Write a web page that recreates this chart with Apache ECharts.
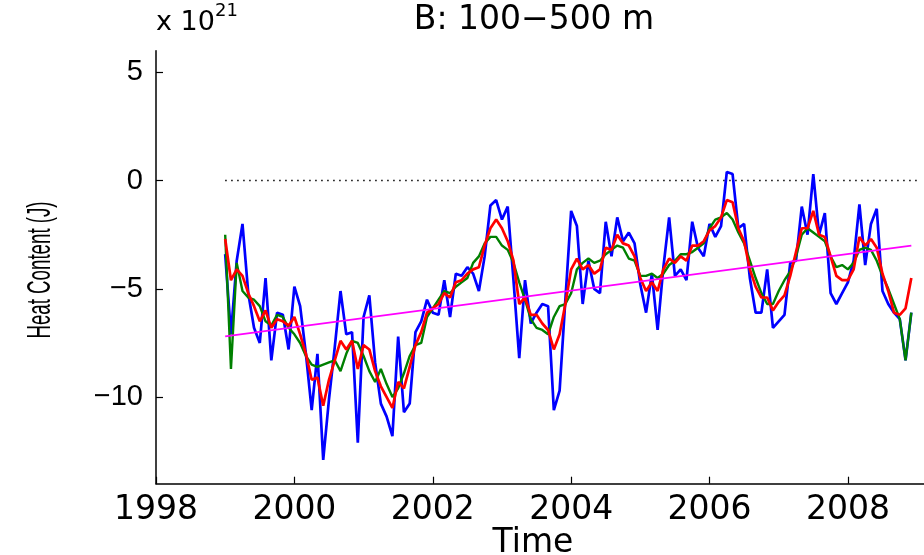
<!DOCTYPE html>
<html>
<head>
<meta charset="utf-8">
<script src="https://cdn.jsdelivr.net/npm/echarts@6/dist/echarts.min.js"></script>
<style>html,body{margin:0;padding:0;background:#fff}#c{width:924px;height:555px}</style>
</head>
<body>
<div id="c"></div>
<script>
// Monthly series, Jan 1999 .. Dec 2008 (units of 10^21 J)
const startYear = 1999;
const blueRaw = [
-3.4,-7.1,-3.7,-2.0,-5.2,-6.8,-7.5,-4.5,-8.3,-6.1,-6.2,-7.8,
-4.9,-5.8,-8.0,-10.6,-8.0,-12.9,-10.1,-7.7,-5.1,-7.1,-7.0,-12.1,
-6.3,-5.3,-8.4,-10.3,-10.9,-11.8,-7.2,-10.7,-10.3,-7.0,-6.5,-5.5,
-6.1,-6.2,-4.6,-6.3,-4.3,-4.4,-4.0,-4.3,-5.1,-3.5,-1.15,-0.9,
-1.8,-1.2,-4.6,-8.2,-4.6,-6.6,-6.1,-5.7,-5.8,-10.6,-9.7,-5.5,
-1.4,-2.1,-5.7,-3.7,-5.0,-5.2,-1.9,-3.5,-1.7,-2.8,-2.4,-2.9,
-4.8,-6.1,-4.3,-6.9,-4.0,-1.7,-4.4,-4.1,-4.6,-1.9,-3.1,-3.5,
-2.0,-2.6,-2.1,0.4,0.3,-2.2,-2.0,-4.5,-6.1,-6.1,-4.1,-6.8,
-6.5,-6.2,-3.8,-3.7,-1.2,-2.5,0.3,-2.5,-1.5,-5.2,-5.7,-5.2,
-4.7,-3.7,-1.1,-3.9,-2.0,-1.3,-5.1,-5.7,-6.1,-6.4,-8.3,-6.1
];
const greenSmooth = [
-2.5,-8.7,-3.8,-5.1,-5.4,-5.5,-5.8,-6.5,-6.7,-6.2,-6.3,-6.8,
-7.1,-7.5,-8.1,-8.5,-8.6,-8.5,-8.4,-8.3,-8.8,-8.0,-7.4,-7.5,
-8.1,-8.8,-9.3,-8.7,-9.4,-10.0,-9.6,-8.9,-8.1,-7.6,-7.5,-6.3,
-5.9,-5.5,-5.1,-5.2,-4.9,-4.7,-4.5,-3.8,-3.5,-2.9,-2.6,-2.6,
-3.0,-3.2,-3.8,-4.7,-5.5,-6.4,-6.8,-6.9,-7.1,-6.3,-5.8,-5.7,
-5.2,-4.1,-3.8,-3.6,-3.8,-3.7,-3.4,-3.2,-3.0,-3.1,-3.6,-3.7,
-4.4,-4.4,-4.3,-4.5,-4.3,-3.9,-3.7,-3.4,-3.4,-3.3,-3.1,-2.9,
-2.2,-1.8,-1.7,-1.5,-1.8,-2.4,-2.9,-3.7,-4.5,-5.2,-5.7,-5.7,
-5.1,-4.6,-4.2,-3.5,-2.5,-2.2,-2.4,-2.6,-2.8,-3.5,-4.0,-3.9,
-4.1,-3.8,-3.2,-3.1,-3.2,-3.7,-4.4,-5.0,-5.7,-6.4,-8.3,-6.1
];
const redSmooth = [
-2.7,-4.6,-4.1,-4.4,-5.2,-5.8,-6.5,-6.0,-6.8,-6.4,-6.5,-6.7,
-6.3,-7.1,-8.0,-9.2,-9.1,-10.4,-9.2,-8.3,-7.4,-7.8,-7.4,-8.7,
-7.6,-7.8,-8.8,-9.5,-10.0,-10.5,-9.3,-9.6,-8.6,-7.6,-7.0,-6.1,
-5.9,-5.7,-5.2,-5.4,-4.7,-4.6,-4.3,-4.1,-4.0,-3.0,-2.2,-1.8,
-2.2,-2.8,-3.7,-5.7,-5.4,-6.2,-6.2,-6.6,-6.9,-7.8,-7.1,-5.7,
-4.1,-3.6,-4.1,-3.9,-4.3,-4.1,-3.1,-3.2,-2.5,-2.9,-3.0,-3.5,
-4.5,-5.1,-4.7,-5.1,-4.1,-3.6,-3.8,-3.5,-3.7,-3.0,-3.0,-2.8,
-2.3,-2.1,-1.7,-0.9,-1.0,-2.2,-2.8,-4.1,-4.9,-5.4,-5.4,-6.0,
-5.6,-5.3,-4.4,-3.3,-2.2,-2.2,-1.4,-2.5,-2.6,-3.5,-4.4,-4.6,
-4.6,-4.1,-2.6,-3.0,-2.7,-3.1,-4.3,-5.1,-6.1,-6.2,-5.9,-4.5
];
const trendTimes = [1999.0, 2008.917];
const trendValues = [-7.2, -3.0];
const zeroTimes = [1999, 2009];
const zeroValues = [0, 0];
const xTicks = [1998, 2000, 2002, 2004, 2006, 2008];
const yTicks = [-10, -5, 0, 5];

const times = blueRaw.map((_, i) => startYear + i / 12);
const pair = (vals) => vals.map((v, i) => [times[i], v]);

const chart = echarts.init(document.getElementById('c'), null, {renderer: 'canvas'});
const sans = 'DejaVu Sans';
chart.setOption({
  animation: false,
  backgroundColor: '#ffffff',
  title: {
    text: 'B: 100\u2212500 m',
    left: 534, top: 4, textAlign: 'center', padding: 0,
    textStyle: {fontFamily: sans, fontSize: 33, fontWeight: 'normal', color: '#000'}
  },
  graphic: [
    {type: 'text', left: 156, top: 9, style: {text: 'x 10', font: '27px "DejaVu Sans"', fill: '#000'}},
    {type: 'text', left: 215, top: 2, style: {text: '21', font: '18px "DejaVu Sans"', fill: '#000'}},
    {type: 'text', x: 41, y: 270, rotation: Math.PI / 2, scaleX: 0.55, scaleY: 1,
     style: {text: 'Heat Content (J)', font: '34px "Liberation Sans"', fill: '#000', align: 'center', verticalAlign: 'middle'}}
  ],
  grid: {left: 156, right: 0, top: 50.7, bottom: 71.3, containLabel: false, outerBoundsMode: 'none'},
  xAxis: {
    type: 'value', min: 1998, max: 2009.1,
    name: 'Time', nameLocation: 'middle', nameGap: 43, nameMoveOverlap: false,
    nameTextStyle: {fontFamily: sans, fontSize: 33, color: '#000', padding: [0, 14, 0, 0]},
    axisLine: {show: true, onZero: false, lineStyle: {color: '#000', width: 1.5}},
    axisTick: {show: true, inside: true, length: 7, customValues: xTicks, lineStyle: {color: '#000', width: 1.2}},
    axisLabel: {customValues: xTicks, margin: 10, fontFamily: sans, fontSize: 33, color: '#000', formatter: v => String(v)},
    splitLine: {show: false}
  },
  yAxis: {
    type: 'value', min: -14, max: 6,
    axisLine: {show: true, onZero: false, lineStyle: {color: '#000', width: 1.5}},
    axisTick: {show: true, inside: true, length: 7, customValues: yTicks, lineStyle: {color: '#000', width: 1.2}},
    axisLabel: {customValues: yTicks, margin: 13, fontFamily: 'Liberation Sans', fontSize: 29, color: '#000',
      formatter: v => (v < 0 ? '\u2212' + (-v) : String(v))},
    splitLine: {show: false}
  },
  series: [
    {type: 'line', name: 'zero', data: zeroTimes.map((t, i) => [t, zeroValues[i]]), symbol: 'none',
     lineStyle: {color: '#000', width: 1.5, type: [1.5, 4.5]}, z: 1},
    {type: 'line', name: 'monthly', data: pair(blueRaw), symbol: 'none',
     lineStyle: {color: '#0000ff', width: 2.7}, z: 2},
    {type: 'line', name: 'smooth1', data: pair(greenSmooth), symbol: 'none',
     lineStyle: {color: '#008000', width: 2.4}, z: 3},
    {type: 'line', name: 'smooth2', data: pair(redSmooth), symbol: 'none',
     lineStyle: {color: '#ff0000', width: 2.7}, z: 4},
    {type: 'line', name: 'trend', data: trendTimes.map((t, i) => [t, trendValues[i]]), symbol: 'none',
     lineStyle: {color: '#ff00ff', width: 1.8}, z: 5}
  ]
});
</script>
</body>
</html>
